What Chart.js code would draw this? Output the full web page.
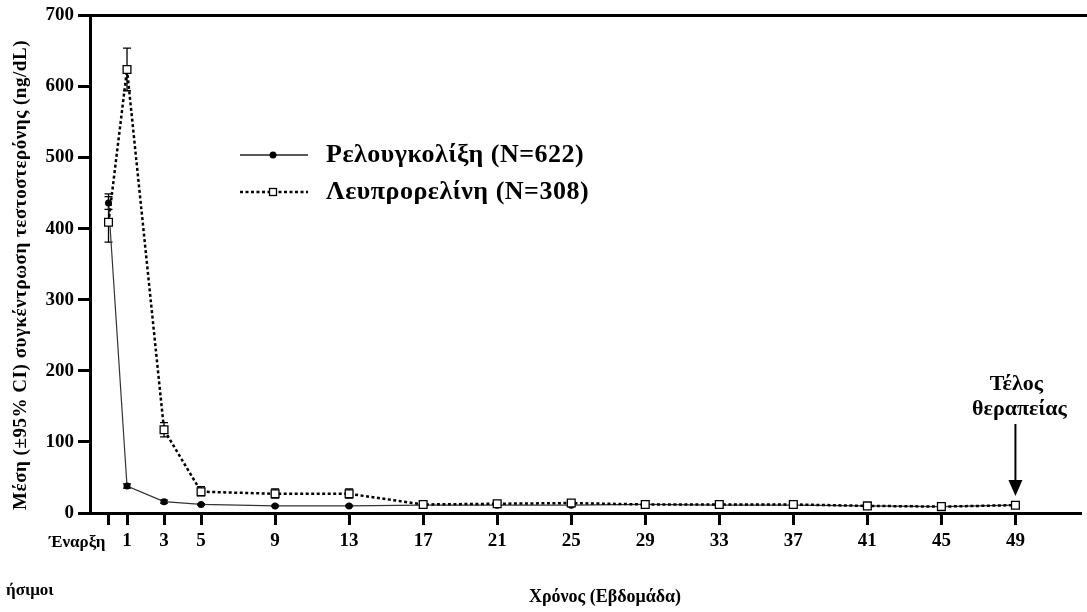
<!DOCTYPE html>
<html>
<head>
<meta charset="utf-8">
<script src="https://cdn.jsdelivr.net/npm/chart.js@4/dist/chart.umd.min.js"></script>
<style>
  html, body { margin: 0; padding: 0; background: #fff; }
  canvas { display: block; }
</style>
</head>
<body>
<canvas id="testoChart" width="1087" height="612"></canvas>
<script>
// weeks (0 = baseline "Έναρξη")
const weeks = [0, 1, 3, 5, 9, 13, 17, 21, 25, 29, 33, 37, 41, 45, 49];
const xTicks = [0, 1, 3, 5, 9, 13, 17, 21, 25, 29, 33, 37, 41, 45, 49];
const yTicks = [0, 100, 200, 300, 400, 500, 600, 700];

const relugolixMean = [436, 38, 16, 12, 10, 10, 11, 11, 11, 12, 11, 11, 10, 9, 11];
const relugolixLow = [427, 35, 14, 11, 9, 9, 10, 10, 10, 11, 10, 10, 9, 8, 10];
const relugolixHigh = [445, 41, 18, 13, 11, 11, 12, 12, 12, 13, 12, 12, 11, 10, 12];

const leuprolideMean = [409, 624, 117, 30, 27, 27, 12, 13, 14, 12, 12, 12, 10, 9, 11];
const leuprolideLow = [381, 594, 107, 24, 21, 21, 10, 11, 12, 10, 10, 10, 8, 7, 9];
const leuprolideHigh = [449, 654, 127, 37, 34, 34, 14, 15, 16, 14, 14, 14, 12, 11, 13];

const legendLabels = ["Ρελουγκολίξη (N=622)", "Λευπρορελίνη (N=308)"];
const yTitle = "Μέση (±95% CI) συγκέντρωση τεστοστερόνης (ng/dL)";
const xTitle = "Χρόνος (Εβδομάδα)";

const serif = "'Liberation Serif', 'DejaVu Serif', serif";
const ctx = document.getElementById("testoChart").getContext("2d");

const toPoints = (vals) => weeks.map((w, i) => ({ x: w, y: vals[i] }));

const errorBars = {
  id: "errorBars",
  beforeDatasetsDraw(chart) {
    const { x, y } = chart.scales;
    const c = chart.ctx;
    const sets = [
      [relugolixLow, relugolixHigh],
      [leuprolideLow, leuprolideHigh],
    ];
    c.save();
    c.strokeStyle = "#000";
    c.lineWidth = 1.3;
    sets.forEach(([lo, hi]) => {
      weeks.forEach((w, i) => {
        const px = x.getPixelForValue(w);
        const y1 = y.getPixelForValue(lo[i]);
        const y2 = y.getPixelForValue(hi[i]);
        c.beginPath();
        c.moveTo(px, y1);
        c.lineTo(px, y2);
        c.moveTo(px - 4, y1);
        c.lineTo(px + 4, y1);
        c.moveTo(px - 4, y2);
        c.lineTo(px + 4, y2);
        c.stroke();
      });
    });
    c.restore();
  },
};

const extras = {
  id: "extras",
  afterDraw(chart) {
    const c = chart.ctx;
    const area = chart.chartArea;
    const { x, y } = chart.scales;
    c.save();

    // top frame line
    c.strokeStyle = "#000";
    c.lineWidth = 3;
    c.beginPath();
    c.moveTo(area.left - 12, area.top);
    c.lineTo(chart.width, area.top);
    c.stroke();

    // baseline label, right aligned before the tick
    c.fillStyle = "#000";
    c.font = "bold 17px " + serif;
    c.textAlign = "right";
    c.textBaseline = "middle";
    c.fillText("Έναρξη", x.getPixelForValue(0) - 3, 543);

    // legend
    const rows = [155, 192];
    c.lineWidth = 1.3;
    c.strokeStyle = "#222";
    c.beginPath();
    c.moveTo(240, rows[0]);
    c.lineTo(308, rows[0]);
    c.stroke();
    c.fillStyle = "#000";
    c.beginPath();
    c.arc(273, rows[0], 3.5, 0, Math.PI * 2);
    c.fill();
    c.lineWidth = 2.5;
    c.strokeStyle = "#000";
    c.setLineDash([3, 2.5]);
    c.beginPath();
    c.moveTo(240, rows[1]);
    c.lineTo(308, rows[1]);
    c.stroke();
    c.setLineDash([]);
    c.fillStyle = "#fff";
    c.lineWidth = 1.3;
    c.fillRect(269.5, rows[1] - 3.5, 7, 7);
    c.strokeRect(269.5, rows[1] - 3.5, 7, 7);

    c.fillStyle = "#000";
    c.font = "bold 26px " + serif;
    c.textAlign = "left";
    c.save();
    c.letterSpacing = "0.5px";
    c.fillText(legendLabels[0], 326, rows[0]);
    c.fillText(legendLabels[1], 326, rows[1]);
    c.restore();

    // end of treatment annotation
    const ax = x.getPixelForValue(49);
    c.font = "bold 22px " + serif;
    c.textAlign = "center";
    c.fillText("Τέλος", ax + 1, 384);
    c.fillText("θεραπείας", ax + 4, 409);
    c.lineWidth = 2;
    c.beginPath();
    c.moveTo(ax, 424);
    c.lineTo(ax, 482);
    c.stroke();
    c.beginPath();
    c.moveTo(ax - 7, 480);
    c.lineTo(ax + 7, 480);
    c.lineTo(ax, 496);
    c.closePath();
    c.fill();

    // axis titles
    c.font = "bold 18px " + serif;
    c.fillText(xTitle, 605, 597);

    c.save();
    c.translate(21, 275);
    c.rotate(-Math.PI / 2);
    c.font = "bold 19px " + serif;
    const w = c.measureText(yTitle).width;
    c.letterSpacing = Math.max(0, (470 - w) / yTitle.length) + "px";
    c.fillText(yTitle, 0, 0);
    c.restore();

    // clipped text at the bottom-left edge
    c.font = "bold 17px " + serif;
    c.textAlign = "left";
    c.fillText("ήσιμοι", 6, 591);

    c.restore();
  },
};

new Chart(ctx, {
  type: "line",
  data: {
    datasets: [
      {
        label: legendLabels[1],
        data: toPoints(leuprolideMean),
        borderColor: "#000",
        borderWidth: 2.5,
        borderDash: [3, 2.5],
        pointStyle: "rect",
        pointRadius: 5.5,
        pointBackgroundColor: "#fff",
        pointBorderColor: "#000",
        pointBorderWidth: 1.3,
        tension: 0,
        order: 1,
      },
      {
        label: legendLabels[0],
        data: toPoints(relugolixMean),
        borderColor: "#333",
        borderWidth: 1.2,
        pointStyle: "circle",
        pointRadius: 3.5,
        pointBackgroundColor: "#000",
        pointBorderColor: "#000",
        pointBorderWidth: 0,
        tension: 0,
        order: 2,
      },
    ],
  },
  options: {
    responsive: false,
    animation: false,
    layout: { padding: { top: 15, left: 0, right: 0, bottom: 0 } },
    plugins: {
      legend: { display: false },
      tooltip: { enabled: false },
    },
    scales: {
      x: {
        type: "linear",
        min: -1,
        max: 52.5,
        afterBuildTicks: (scale) => {
          scale.ticks = xTicks.map((v) => ({ value: v }));
        },
        afterFit: (scale) => {
          scale.height = 99;
        },
        ticks: {
          callback: (v) => (v === 0 ? "" : v),
          color: "#000",
          font: { family: serif, size: 19, weight: "bold" },
          padding: 5,
          maxRotation: 0,
          autoSkip: false,
        },
        grid: {
          drawOnChartArea: false,
          drawTicks: true,
          tickLength: 12,
          lineWidth: 3,
          color: "#000",
        },
        border: { width: 3, color: "#000" },
      },
      y: {
        min: 0,
        max: 700,
        afterBuildTicks: (scale) => {
          scale.ticks = yTicks.map((v) => ({ value: v }));
        },
        afterFit: (scale) => {
          scale.width = 90;
        },
        ticks: {
          color: "#000",
          font: { family: serif, size: 19, weight: "bold" },
          padding: 4,
        },
        grid: {
          drawOnChartArea: false,
          drawTicks: true,
          tickLength: 12,
          lineWidth: 3,
          color: "#000",
        },
        border: { width: 3, color: "#000" },
      },
    },
  },
  plugins: [errorBars, extras],
});
</script>
</body>
</html>
